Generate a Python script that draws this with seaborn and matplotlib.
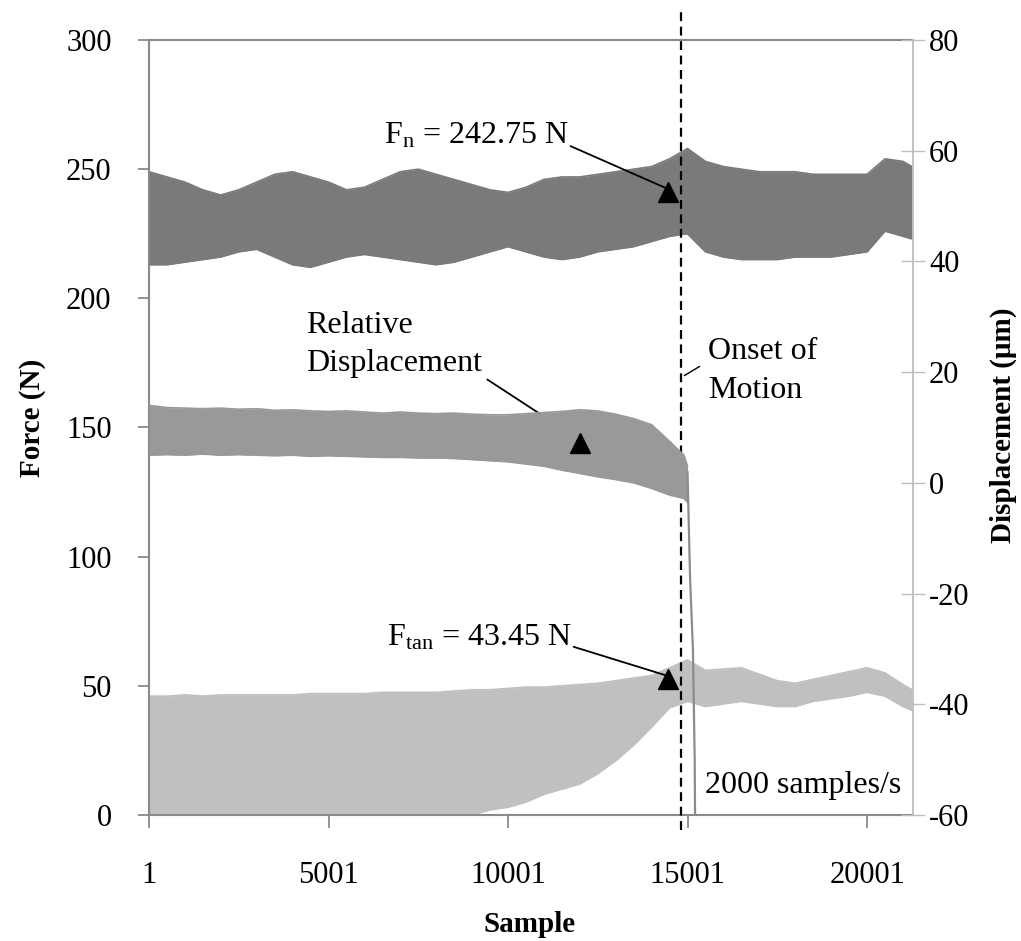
import matplotlib
matplotlib.use("Agg")
import matplotlib.pyplot as plt
import seaborn as sns
import pandas as pd

# ---------------- data ----------------
samples = [1, 500, 1000, 1500, 2000, 2500, 3000, 3500, 4000, 4500, 5000,
           5500, 6000, 6500, 7000, 7500, 8000, 8500, 9000, 9500, 10000,
           10500, 11000, 11500, 12000, 12500, 13000, 13500, 14000, 14500,
           15000, 15500, 16000, 16500, 17000, 17500, 18000, 18500, 19000,
           19500, 20000, 20500, 21000, 21250]

fn_upper = [249, 247, 245, 242, 240, 242, 245, 248, 249, 247, 245,
            242, 243, 246, 249, 250, 248, 246, 244, 242, 241,
            243, 246, 247, 247, 248, 249, 250, 251, 254,
            258, 253, 251, 250, 249, 249, 249, 248, 248,
            248, 248, 254, 253, 251]
fn_lower = [213, 213, 214, 215, 216, 218, 219, 216, 213, 212, 214,
            216, 217, 216, 215, 214, 213, 214, 216, 218, 220,
            218, 216, 215, 216, 218, 219, 220, 222, 224,
            225, 218, 216, 215, 215, 215, 216, 216, 216,
            217, 218, 226, 224, 223]

ftan_upper = [46, 46, 46.5, 46, 46.5, 46.5, 46.5, 46.5, 46.5, 47, 47,
              47, 47, 47.5, 47.5, 47.5, 47.5, 48, 48.5, 48.5, 49,
              49.5, 49.5, 50, 50.5, 51, 52, 53, 54, 57,
              60, 56, 56.5, 57, 54.5, 52, 51, 52.5, 54,
              55.5, 57, 55, 50.5, 48.5]
ftan_lower = [0, 0, 0, 0, 0, 0, 0, 0, 0, 0, 0,
              0, 0, 0, 0, 0, 0, 0, 0, 2, 3,
              5, 8, 10, 12, 16, 21, 27, 34, 41.5,
              44, 42, 43, 44, 43, 42, 42, 44, 45,
              46, 47.5, 46, 42, 40.5]

disp_samples = [1, 500, 1000, 1500, 2000, 2500, 3000, 3500, 4000, 4500,
                5000, 5500, 6000, 6500, 7000, 7500, 8000, 8500, 9000, 9500,
                10000, 10500, 11000, 11500, 12000, 12500, 13000, 13500,
                14000, 14500, 14900, 15000]
disp_upper = [14, 13.6, 13.5, 13.4, 13.5, 13.3, 13.4, 13.1, 13.2, 13.0,
              12.9, 13.0, 12.8, 12.6, 12.8, 12.6, 12.5, 12.6, 12.4, 12.3,
              12.3, 12.5, 12.7, 12.9, 13.2, 13.0, 12.4, 11.6,
              10.5, 7.5, 5.0, 3.0]
disp_lower = [5.0, 5.1, 5.0, 5.2, 5.0, 5.1, 5.0, 4.9, 5.0, 4.8,
              4.9, 4.8, 4.7, 4.6, 4.6, 4.5, 4.5, 4.4, 4.2, 4.0,
              3.8, 3.4, 3.0, 2.3, 1.7, 1.1, 0.6, 0.0,
              -1.0, -2.2, -2.8, -3.5]

drop_samples = [15000, 15070, 15150, 15200, 15215]
drop_values = [2, -17, -30, -50, -65]

onset_sample = 14822

x_ticks = [1, 5001, 10001, 15001, 20001]
x_ticklabels = ["1", "5001", "10001", "15001", "20001"]
force_ticks = [0, 50, 100, 150, 200, 250, 300]
disp_ticks = [-60, -40, -20, 0, 20, 40, 60, 80]

c_fn = "#7a7a7a"
c_disp = "#999999"
c_ftan = "#c0c0c0"

# ---------------- style ----------------
sns.set_theme(style="white")
plt.rcParams["font.family"] = ["Liberation Serif", "DejaVu Serif"]
plt.rcParams["mathtext.fontset"] = "custom"
plt.rcParams["mathtext.rm"] = "Liberation Serif"
plt.rcParams["mathtext.it"] = "Liberation Serif:italic"
plt.rcParams["mathtext.bf"] = "Liberation Serif:bold"
plt.rcParams["axes.unicode_minus"] = False
plt.rcParams["text.color"] = "black"
plt.rcParams["axes.labelcolor"] = "black"
plt.rcParams["xtick.labelcolor"] = "black"
plt.rcParams["ytick.labelcolor"] = "black"

W, H = 1021, 941
fig = plt.figure(figsize=(W / 100, H / 100), dpi=100)
L, R, T, B = 149, 913, 40, 815
ax = fig.add_axes([L / W, 1 - B / H, (R - L) / W, (B - T) / H])
ax2 = ax.twinx()

force_df = pd.DataFrame({"sample": samples,
                         "fn_up": fn_upper, "fn_lo": fn_lower,
                         "ft_up": ftan_upper, "ft_lo": ftan_lower})
disp_df = pd.DataFrame({"sample": disp_samples,
                        "up": disp_upper, "lo": disp_lower})
drop_df = pd.DataFrame({"sample": drop_samples, "disp": drop_values})

# Ftan band
ax.fill_between(force_df["sample"], force_df["ft_lo"], force_df["ft_up"],
                color=c_ftan, lw=0, zorder=1)
for col in ["ft_up", "ft_lo"]:
    sns.lineplot(data=force_df, x="sample", y=col, ax=ax, color=c_ftan,
                 lw=1.2, zorder=1)
# Fn band
ax.fill_between(force_df["sample"], force_df["fn_lo"], force_df["fn_up"],
                color=c_fn, lw=0, zorder=2)
for col in ["fn_up", "fn_lo"]:
    sns.lineplot(data=force_df, x="sample", y=col, ax=ax, color=c_fn,
                 lw=1.2, zorder=2)

# displacement band
ax2.fill_between(disp_df["sample"], disp_df["lo"], disp_df["up"],
                 color=c_disp, lw=0, zorder=2)
for col in ["up", "lo"]:
    sns.lineplot(data=disp_df, x="sample", y=col, ax=ax2, color=c_disp,
                 lw=1.2, zorder=2)
sns.lineplot(data=drop_df, x="sample", y="disp", ax=ax2, color="#8c8c8c",
             lw=1.6, zorder=2)

# axes limits
ax.set_xlim(1, 21280)
ax.set_ylim(0, 300)
ax2.set_ylim(-60, 80)

# onset line
ax.axvline(onset_sample, ymin=-15 / 775, ymax=805 / 775, color="black",
           lw=1.6, ls=(0, (4, 2.5)), clip_on=False, zorder=6)

# ticks
tick_fs = 22
ax.set_xticks(x_ticks)
ax.set_xticklabels(x_ticklabels)
ax.set_yticks(force_ticks)
ax2.set_yticks(disp_ticks)
ax.tick_params(axis="x", direction="out", length=9, width=1.3,
               color="#8a8a8a", labelsize=tick_fs, pad=24, bottom=True)
ax.tick_params(axis="y", direction="out", length=8, width=1.3,
               color="#8a8a8a", labelsize=tick_fs, pad=19, left=True)
ax2.tick_params(axis="y", direction="inout", length=17, width=1.0,
                color="#bdbdbd", labelsize=tick_fs, pad=3, right=True)

for s in ["left", "bottom", "top"]:
    ax.spines[s].set_color("#8a8a8a")
    ax.spines[s].set_linewidth(1.5)
ax.spines["right"].set_visible(False)
for s in ["left", "bottom", "top"]:
    ax2.spines[s].set_visible(False)
ax2.spines["right"].set_color("#bdbdbd")
ax2.spines["right"].set_linewidth(1.3)

ax.set_xlabel("Sample", fontsize=21, fontweight="bold")
ax.set_ylabel("Force (N)", fontsize=21, fontweight="bold")
ax2.set_ylabel("Displacement (\u03bcm)", fontsize=21, fontweight="bold",
               rotation=90)
ax.xaxis.set_label_coords((530 - L) / (R - L), (B - 925) / (B - T))
ax.yaxis.set_label_coords((33 - L) / (R - L), (B - 418) / (B - T))
ax2.yaxis.set_label_coords((1003 - L) / (R - L), (B - 425) / (B - T))
ax2.yaxis.label.set_va("center")
ax.yaxis.label.set_va("center")
ax.xaxis.label.set_va("center")


def fp(x, y):
    return (x / W, 1 - y / H)


ann_fs = 23
# annotation texts
fig.text(*fp(384, 144), r"F$_\mathrm{n}$ = 242.75 N", fontsize=ann_fs,
         ha="left", va="baseline")
fig.text(*fp(387, 646), r"F$_\mathrm{tan}$ = 43.45 N", fontsize=ann_fs,
         ha="left", va="baseline")
fig.text(*fp(306, 333), "Relative", fontsize=ann_fs, ha="left", va="baseline")
fig.text(*fp(306, 371), "Displacement", fontsize=ann_fs, ha="left",
         va="baseline")
fig.text(*fp(708, 359), "Onset of", fontsize=ann_fs, ha="left", va="baseline")
fig.text(*fp(708, 398), "Motion", fontsize=ann_fs, ha="left", va="baseline")
fig.text(*fp(705, 793), "2000 samples/s", fontsize=ann_fs, ha="left",
         va="baseline")

# arrows with triangle heads
arrows = [((568, 145), (668, 189)),
          ((485, 378), (580, 440)),
          ((571, 646), (668, 676))]
for (x0, y0), (x1, y1) in arrows:
    ax.annotate("", xy=fp(x1, y1), xycoords="figure fraction",
                xytext=fp(x0, y0), textcoords="figure fraction",
                arrowprops=dict(arrowstyle="-", color="black", lw=1.3),
                zorder=7)
    fig.lines.append(plt.Line2D([fp(x1, y1)[0]], [fp(x1 + 1, y1 + 3)[1]],
                                marker="^", markersize=15, color="black",
                                transform=fig.transFigure, lw=0))
# onset leader
ax.annotate("", xy=fp(682, 377), xycoords="figure fraction",
            xytext=fp(702, 365), textcoords="figure fraction",
            arrowprops=dict(arrowstyle="-", color="black", lw=1.0))

ax.set_zorder(ax2.get_zorder() - 1)
ax.patch.set_visible(True)
ax2.patch.set_visible(False)

fig.savefig("out.png", dpi=100, facecolor="white")
